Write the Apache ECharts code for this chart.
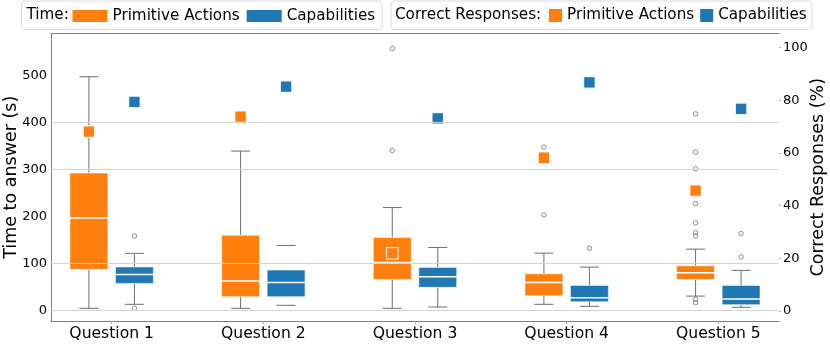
<!DOCTYPE html>
<html>
<head>
<meta charset="utf-8">
<script src="https://cdn.jsdelivr.net/npm/echarts@6/dist/echarts.min.js"></script>
<style>
html,body{margin:0;padding:0;background:#fff;}
#chart{width:830px;height:348px;}
</style>
</head>
<body>
<div id="chart"></div>
<script>
// ---- data ----
const categories = ['Question 1', 'Question 2', 'Question 3', 'Question 4', 'Question 5'];
// [lower whisker, Q1, median, Q3, upper whisker] in seconds
const timePA = [
  [4, 87, 196, 292, 497],
  [4, 28.7, 62, 159.7, 338.7],
  [4, 65.6, 101.7, 154.7, 218.5],
  [12.5, 30.8, 59, 77.5, 121.4],
  [30, 65.6, 79.6, 94.5, 130]
];
const timeCap = [
  [12.5, 57, 76, 92, 121],
  [10.4, 28.7, 59, 85.4, 137.8],
  [6.8, 48.6, 71, 91, 133.5],
  [8.2, 18, 26.5, 52.8, 91.7],
  [6.2, 11.7, 23.8, 52.8, 84.7]
];
// whisker stem visible per box
const stemPA = [true, true, true, true, true];
const stemCap = [true, false, true, true, true];
// outliers: [question index, seconds]
const outliersPA = [[2, 557], [2, 340], [3, 347], [3, 202.8], [4, 418], [4, 336.5], [4, 301], [4, 227], [4, 186], [4, 165], [4, 158], [4, 23], [4, 16]];
const outliersCap = [[0, 158], [0, 4], [3, 132], [4, 163], [4, 113.6]];
// correct responses (%)
const correctPA = [68.1, 73.8, 21.9, 58.2, 45.7];
const correctCap = [79.4, 85.2, 73.2, 86.8, 76.8];
// axis ticks
const timeTicks = [0, 100, 200, 300, 400, 500];
const pctTicks = [0, 20, 40, 60, 80, 100];
const gridValues = [0, 100, 300, 400];

// ---- styles ----
const ORANGE = '#ff7f0e';
const BLUE = '#1f77b4';
const OFF = 0.15;
const BOXW = 0.25;
const FONT = 'DejaVu Sans';

function makeRender(offset, color, stems) {
  return function (params, api) {
    const i = api.value(0);
    const x = i + offset;
    const low = api.coord([x, api.value(1)]);
    const q1 = api.coord([x, api.value(2)]);
    const med = api.coord([x, api.value(3)]);
    const q3 = api.coord([x, api.value(4)]);
    const high = api.coord([x, api.value(5)]);
    const w = api.size([BOXW, 0])[0];
    const cw = w / 2;
    const cx = low[0];
    const wStyle = { stroke: '#6e6e6e', lineWidth: 1 };
    const children = [];
    if (stems[i]) {
      children.push({ type: 'line', shape: { x1: cx, y1: low[1], x2: cx, y2: q1[1] }, style: wStyle });
      children.push({ type: 'line', shape: { x1: cx, y1: q3[1], x2: cx, y2: high[1] }, style: wStyle });
    }
    children.push({ type: 'line', shape: { x1: cx - cw / 2, y1: low[1], x2: cx + cw / 2, y2: low[1] }, style: wStyle });
    children.push({ type: 'line', shape: { x1: cx - cw / 2, y1: high[1], x2: cx + cw / 2, y2: high[1] }, style: wStyle });
    children.push({
      type: 'rect',
      shape: { x: cx - w / 2, y: q3[1], width: w, height: q1[1] - q3[1] },
      style: { fill: color, stroke: 'rgba(255,255,255,0.55)', lineWidth: 1 }
    });
    children.push({
      type: 'line',
      shape: { x1: cx - w / 2, y1: med[1], x2: cx + w / 2, y2: med[1] },
      style: { stroke: '#ffffff', lineWidth: 1.5 }
    });
    return { type: 'group', children: children };
  };
}

const chart = echarts.init(document.getElementById('chart'), null, { renderer: 'canvas' });

const legendLabels = {
  tPA: 'Primitive Actions', tCap: 'Capabilities',
  cPA: 'Primitive Actions', cCap: 'Capabilities'
};

const option = {
  animation: false,
  backgroundColor: '#fff',
  textStyle: { fontFamily: FONT },
  grid: { left: 51, right: 51, top: 33.5, bottom: 27, containLabel: false, outerBoundsMode: 'none' },
  graphic: [
    { type: 'rect', z: 0, shape: { x: 21.5, y: 1, width: 360.5, height: 28.5, r: 3 }, style: { fill: '#fff', stroke: '#dcdcdc', lineWidth: 1 } },
    { type: 'rect', z: 0, shape: { x: 391, y: 1, width: 421, height: 28.5, r: 3 }, style: { fill: '#fff', stroke: '#dcdcdc', lineWidth: 1 } },
    { type: 'text', z: 5, x: 26.5, y: 15, style: { text: 'Time:', fontSize: 15.2, fontFamily: FONT, fill: '#000', verticalAlign: 'middle' } },
    { type: 'text', z: 5, x: 395, y: 15, style: { text: 'Correct Responses:', fontSize: 15.2, fontFamily: FONT, fill: '#000', verticalAlign: 'middle' } }
  ],
  legend: [
    {
      left: 72.5, top: 8.5, padding: 0, itemWidth: 35, itemHeight: 12, itemGap: 7,
      selectedMode: false,
      textStyle: { fontSize: 15.2, fontFamily: FONT, color: '#000' },
      formatter: n => legendLabels[n],
      data: [
        { name: 'tPA', icon: 'rect', itemStyle: { color: ORANGE, borderWidth: 0 } },
        { name: 'tCap', icon: 'rect', itemStyle: { color: BLUE, borderWidth: 0 } }
      ]
    },
    {
      left: 549, top: 8, padding: 0, itemWidth: 13, itemHeight: 13, itemGap: 6,
      selectedMode: false,
      textStyle: { fontSize: 15.2, fontFamily: FONT, color: '#000' },
      formatter: n => legendLabels[n],
      data: [
        { name: 'cPA', icon: 'rect', itemStyle: { color: ORANGE, borderWidth: 0 } },
        { name: 'cCap', icon: 'rect', itemStyle: { color: BLUE, borderWidth: 0 } }
      ]
    }
  ],
  xAxis: [
    {
      type: 'value', min: -0.4, max: 4.4, position: 'bottom',
      axisLine: { show: true, onZero: false, lineStyle: { color: '#808080', width: 1 } },
      axisTick: { show: true, length: 3, lineStyle: { color: '#aaaaaa' }, customValues: [0, 1, 2, 3, 4] },
      axisLabel: {
        show: true, customValues: [0, 1, 2, 3, 4], margin: 5,
        fontSize: 15.6, fontFamily: FONT, color: '#000',
        formatter: v => categories[Math.round(v)]
      },
      splitLine: { show: false }
    },
    {
      type: 'value', min: -0.4, max: 4.4, position: 'top',
      axisLine: { show: true, onZero: false, lineStyle: { color: '#808080', width: 1 } },
      axisTick: { show: false }, axisLabel: { show: false }, splitLine: { show: false }
    }
  ],
  yAxis: [
    {
      type: 'value', min: -23, max: 589, position: 'left',
      name: 'Time to answer (s)', nameLocation: 'middle', nameGap: 31, nameMoveOverlap: false,
      nameTextStyle: { fontSize: 17.5, fontFamily: FONT, color: '#000' },
      axisLine: { show: true, onZero: false, lineStyle: { color: '#808080', width: 1 } },
      axisTick: { show: false },
      axisLabel: { customValues: timeTicks, margin: 4, fontSize: 13, fontFamily: FONT, color: '#000' },
      splitLine: { show: false }
    },
    {
      type: 'value', min: -3.8, max: 105.4, position: 'right',
      name: 'Correct Responses (%)', nameLocation: 'middle', nameGap: 30, nameMoveOverlap: false,
      nameTextStyle: { fontSize: 17.5, fontFamily: FONT, color: '#000' },
      axisLine: { show: false, onZero: false },
      axisTick: { show: true, length: 2, customValues: pctTicks, lineStyle: { color: '#aaaaaa' } },
      axisLabel: { customValues: pctTicks, margin: 4, fontSize: 13, fontFamily: FONT, color: '#000' },
      splitLine: { show: false }
    }
  ],
  series: [
    {
      type: 'line', name: 'grid', data: [], z: 1, silent: true,
      markLine: {
        silent: true, symbol: ['none', 'none'], label: { show: false },
        lineStyle: { color: '#d4d4d4', width: 1, type: 'solid' },
        emphasis: { disabled: true },
        data: gridValues.map(v => ({ yAxis: v }))
      }
    },
    {
      type: 'custom', name: 'tPA', z: 2,
      itemStyle: { color: ORANGE },
      renderItem: makeRender(-OFF, ORANGE, stemPA),
      encode: { x: 0, y: [1, 2, 3, 4, 5] },
      data: timePA.map((d, i) => [i].concat(d))
    },
    {
      type: 'custom', name: 'tCap', z: 2,
      itemStyle: { color: BLUE },
      renderItem: makeRender(OFF, BLUE, stemCap),
      encode: { x: 0, y: [1, 2, 3, 4, 5] },
      data: timeCap.map((d, i) => [i].concat(d))
    },
    {
      type: 'scatter', name: 'outPA', z: 3, symbol: 'circle', symbolSize: 4.5, silent: true,
      itemStyle: { color: 'rgba(255,255,255,0)', borderColor: '#666', borderWidth: 0.9 },
      data: outliersPA.map(d => [d[0] - OFF, d[1]])
    },
    {
      type: 'scatter', name: 'outCap', z: 3, symbol: 'circle', symbolSize: 4.5, silent: true,
      itemStyle: { color: 'rgba(255,255,255,0)', borderColor: '#666', borderWidth: 0.9 },
      data: outliersCap.map(d => [d[0] + OFF, d[1]])
    },
    {
      type: 'scatter', name: 'cPA', yAxisIndex: 1, z: 4, symbol: 'rect', symbolSize: 11.5,
      itemStyle: { color: ORANGE, borderColor: 'rgba(255,255,255,0.85)', borderWidth: 1.2, opacity: 1 },
      data: correctPA.map((v, i) => [i - OFF, v])
    },
    {
      type: 'scatter', name: 'cCap', yAxisIndex: 1, z: 4, symbol: 'rect', symbolSize: 11.5,
      itemStyle: { color: BLUE, borderColor: 'rgba(255,255,255,0.85)', borderWidth: 1.2, opacity: 1 },
      data: correctCap.map((v, i) => [i + OFF, v])
    }
  ]
};
chart.setOption(option);
</script>
</body>
</html>
